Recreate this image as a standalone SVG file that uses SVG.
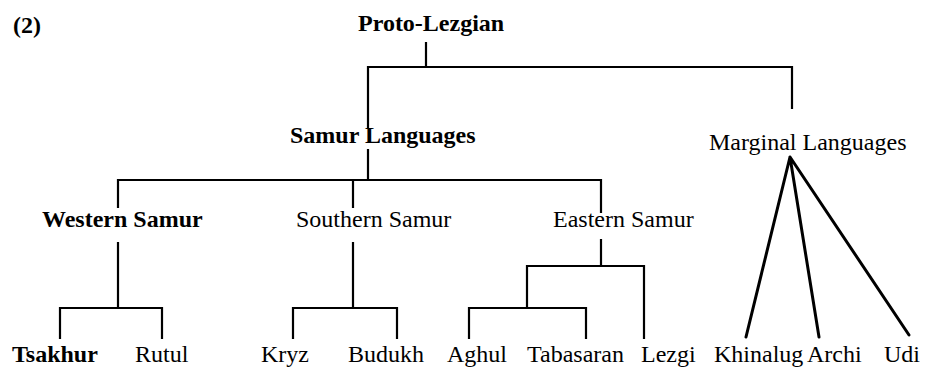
<svg xmlns="http://www.w3.org/2000/svg" width="928" height="371" viewBox="0 0 928 371">
<style>
text{font-family:"Liberation Serif","Times New Roman",serif;font-size:24px;fill:#000}
.b{font-weight:bold}
.c{fill:none;stroke:#000;stroke-width:2.2;stroke-linecap:square}
.d{fill:none;stroke:#000;stroke-width:3;stroke-linecap:round}
</style>
<rect width="928" height="371" fill="#fff"/>
<g id="label-2"><text class="b" x="13" y="33">(2)</text></g>
<g id="proto-lezgian"><text class="b" x="358" y="31">Proto-Lezgian</text></g>
<g id="samur-languages"><text class="b" x="290" y="143">Samur Languages</text></g>
<g id="marginal-languages"><text x="709" y="150">Marginal Languages</text></g>
<g id="western-samur"><text class="b" x="42" y="227">Western Samur</text></g>
<g id="southern-samur"><text x="296" y="227">Southern Samur</text></g>
<g id="eastern-samur"><text x="553" y="227">Eastern Samur</text></g>
<g id="tsakhur"><text class="b" x="12" y="362">Tsakhur</text></g>
<g id="rutul"><text x="135" y="362">Rutul</text></g>
<g id="kryz"><text x="261" y="362">Kryz</text></g>
<g id="budukh"><text x="348" y="362">Budukh</text></g>
<g id="aghul"><text x="447" y="362">Aghul</text></g>
<g id="tabasaran"><text x="527" y="362">Tabasaran</text></g>
<g id="lezgi"><text x="641" y="362">Lezgi</text></g>
<g id="khinalug"><text x="714" y="362">Khinalug</text></g>
<g id="archi"><text x="807" y="362">Archi</text></g>
<g id="udi"><text x="884" y="362">Udi</text></g>
<g id="connectors">
<path class="c" d="M426 43V67M368 128V67H792V108"/>
<path class="c" d="M368 150V180M118 207V180H601V212M353 180V207"/>
<path class="c" d="M118 243V308M60 338V308H162V338"/>
<path class="c" d="M353 243V308M293 338V308H397V338"/>
<path class="c" d="M601 240V266M527 308V266H644V338M469 338V308H586V338"/>
<path class="d" d="M790 157L746 337M790 157L819 337M790 157L909 335"/>
</g>
</svg>
